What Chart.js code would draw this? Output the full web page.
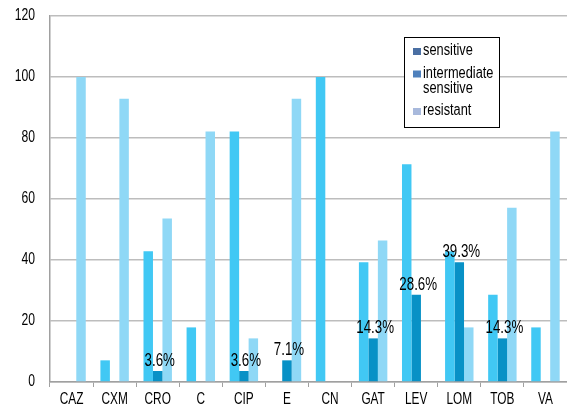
<!DOCTYPE html>
<html>
<head>
<meta charset="utf-8">
<script src="https://cdn.jsdelivr.net/npm/chart.js@4.4.1/dist/chart.umd.min.js"></script>
<style>
  html, body { margin: 0; padding: 0; background: #fff; }
  #wrap { width: 567px; height: 410px; }
</style>
</head>
<body>
<div id="wrap"><canvas id="abChart" width="567" height="410"></canvas></div>
<script>
// categorie (antibiotici)
const drugs = ['CAZ', 'CXM', 'CRO', 'C', 'CIP', 'E', 'CN', 'GAT', 'LEV', 'LOM', 'TOB', 'VA'];

// valori in percentuale
const sensitive = [0, 7.1, 42.9, 17.9, 82.1, 0, 100, 39.3, 71.4, 42.9, 28.6, 17.9];
const intermediate = [0, 0, 3.6, 0, 3.6, 7.1, 0, 14.3, 28.6, 39.3, 14.3, 0];
const resistant = [100, 92.9, 53.6, 82.1, 14.3, 92.9, 0, 46.4, 0, 17.9, 57.1, 82.1];

// etichette sopra le barre "intermediate"
const interLabels = ['', '', '3.6%', '', '3.6%', '7.1%', '', '14.3%', '28.6%', '39.3%', '14.3%', ''];

const yTicks = [0, 20, 40, 60, 80, 100, 120];

const legendItems = [
    { text: ['sensitive'], color: '#4a6fa3' },
    { text: ['intermediate', 'sensitive'], color: '#4f81bd' },
    { text: ['resistant'], color: '#a8b9dc' }
];

const FONT = '"Liberation Sans", Arial, sans-serif';

// testo "stretto" (il font originale e' condensato)
function narrowText(ctx, text, x, y, sx, align) {
    ctx.save();
    ctx.translate(x, y);
    ctx.scale(sx, 1);
    ctx.textAlign = align;
    ctx.fillText(text, 0, 0);
    ctx.restore();
}

// etichette degli assi disegnate a mano
const axisLabels = {
    id: 'axisLabels',
    afterDraw(chart) {
        const ctx = chart.ctx;
        const xs = chart.scales.x, ys = chart.scales.y;
        ctx.save();
        ctx.font = '16px ' + FONT;
        ctx.fillStyle = '#000';
        ctx.textBaseline = 'middle';
        yTicks.forEach(v => {
            narrowText(ctx, String(v), 35, ys.getPixelForValue(v), 0.76, 'right');
        });
        drugs.forEach((d, i) => {
            narrowText(ctx, d, xs.getPixelForValue(i), 400, 0.74, 'center');
        });
        ctx.restore();
    }
};

// plugin per le etichette percentuali
const barLabels = {
    id: 'barLabels',
    afterDatasetsDraw(chart) {
        const ctx = chart.ctx;
        const meta = chart.getDatasetMeta(1);
        ctx.save();
        ctx.font = '18px ' + FONT;
        ctx.fillStyle = '#000';
        ctx.textBaseline = 'bottom';
        meta.data.forEach((bar, i) => {
            const t = interLabels[i];
            if (!t) return;
            narrowText(ctx, t, bar.x + 2, bar.y - 1, 0.74, 'center');
        });
        ctx.restore();
    }
};

// legenda disegnata a mano (riquadro con bordo nero)
const boxLegend = {
    id: 'boxLegend',
    afterDraw(chart) {
        const ctx = chart.ctx;
        const x = 404, y = 37, w = 95, h = 90;
        ctx.save();
        ctx.fillStyle = '#fff';
        ctx.fillRect(x, y, w, h);
        ctx.strokeStyle = '#000';
        ctx.lineWidth = 1;
        ctx.strokeRect(x + 0.5, y + 0.5, w, h);
        ctx.font = '16px ' + FONT;
        ctx.textBaseline = 'middle';
        let ly = 51;
        legendItems.forEach(item => {
            ctx.fillStyle = item.color;
            ctx.fillRect(413, ly - 3, 8, 7);
            ctx.fillStyle = '#000';
            item.text.forEach((line, k) => {
                narrowText(ctx, line, 423, ly, 0.8, 'left');
                ly += (k < item.text.length - 1) ? 15 : 22.5;
            });
        });
        ctx.restore();
    }
};

new Chart(document.getElementById('abChart'), {
    type: 'bar',
    data: {
        labels: drugs,
        datasets: [
            { label: 'sensitive', data: sensitive, backgroundColor: '#41c8f4' },
            { label: 'intermediate sensitive', data: intermediate, backgroundColor: '#0891c6' },
            { label: 'resistant', data: resistant, backgroundColor: '#8fd8f6' }
        ]
    },
    options: {
        responsive: false,
        animation: false,
        layout: { padding: { top: 16, right: 0, left: 0, bottom: 0 } },
        datasets: {
            bar: { categoryPercentage: 0.66, barPercentage: 1.0, borderWidth: 0 }
        },
        plugins: {
            legend: { display: false },
            tooltip: { enabled: false }
        },
        scales: {
            x: {
                afterFit: s => { s.height = 28; },
                grid: {
                    offset: true,
                    drawOnChartArea: false,
                    drawTicks: true,
                    tickLength: 5,
                    color: '#a0a0a0'
                },
                border: { color: '#a0a0a0', width: 1.5 },
                ticks: { display: false }
            },
            y: {
                min: 0,
                max: 120,
                afterFit: s => { s.width = 50; },
                afterBuildTicks: s => { s.ticks = yTicks.map(v => ({ value: v })); },
                grid: { color: '#bdbdbd', lineWidth: 1.5, drawTicks: false },
                border: { color: '#a0a0a0', width: 1.5 },
                ticks: { display: false }
            }
        }
    },
    plugins: [barLabels, axisLabels, boxLegend]
});
</script>
</body>
</html>
